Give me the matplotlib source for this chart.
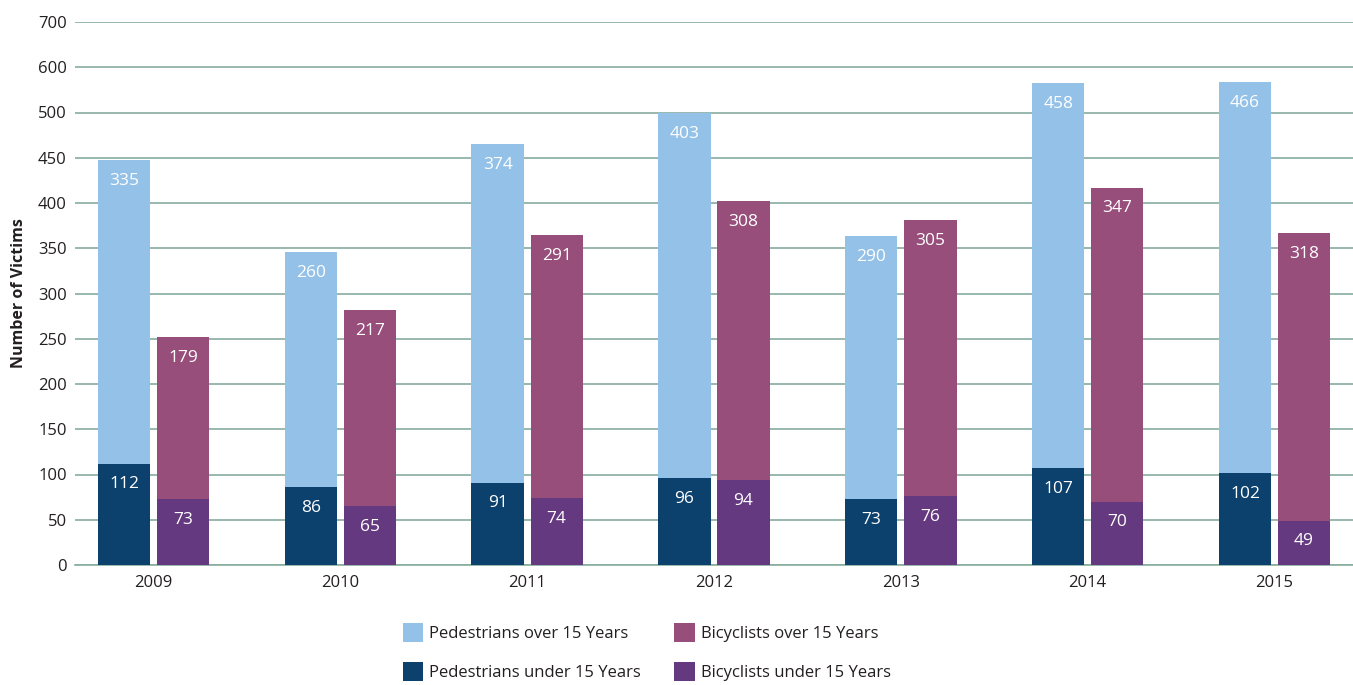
import numpy as np
import matplotlib
matplotlib.use('Agg')
import matplotlib.pyplot as plt

plt.rcParams['font.family'] = ['Open Sans', 'DejaVu Sans']

years = ['2009', '2010', '2011', '2012', '2013', '2014', '2015']
ped_under = [112, 86, 91, 96, 73, 107, 102]
ped_over = [335, 260, 374, 403, 290, 458, 466]
bic_under = [73, 65, 74, 94, 76, 70, 49]
bic_over = [179, 217, 291, 308, 305, 347, 318]

y_ticks = [0, 50, 100, 150, 200, 250, 300, 350, 400, 450, 500, 600, 700]
y_tick_labels = ['0', '50', '100', '150', '200', '250', '300', '350', '400', '450', '500', '600', '700']

c_ped_over = '#94c1e8'
c_ped_under = '#0d416d'
c_bic_over = '#974e7a'
c_bic_under = '#643980'
grid_col = '#86ad9f'
txt_col = '#231f20'

# scale is squeezed above 500 (the original axis jumps 500 -> 600 -> 700)
def fwd(y):
    y = np.asarray(y, dtype=float)
    return np.where(y <= 500, y, 500 + (y - 500) / 2)

def inv(y):
    y = np.asarray(y, dtype=float)
    return np.where(y <= 500, y, 500 + (y - 500) * 2)

fig = plt.figure(figsize=(13.53, 6.85), dpi=100)
ax = fig.add_axes([75 / 1353, 120 / 685, 1 - 75 / 1353, 543 / 685])
ax.set_yscale('function', functions=(fwd, inv))

x = np.arange(len(years))
w = 0.28
off = 0.158

b1 = ax.bar(x - off, ped_over, w, bottom=ped_under, color=c_ped_over, label='Pedestrians over 15 Years', zorder=3)
b2 = ax.bar(x - off, ped_under, w, color=c_ped_under, label='Pedestrians under 15 Years', zorder=3)
b3 = ax.bar(x + off, bic_over, w, bottom=bic_under, color=c_bic_over, label='Bicyclists over 15 Years', zorder=3)
b4 = ax.bar(x + off, bic_under, w, color=c_bic_under, label='Bicyclists under 15 Years', zorder=3)

for bars, vals, bottoms in [(b1, ped_over, ped_under), (b2, ped_under, [0] * 7),
                            (b3, bic_over, bic_under), (b4, bic_under, [0] * 7)]:
    for rect, v, b in zip(bars, vals, bottoms):
        ax.annotate(str(v), (rect.get_x() + rect.get_width() / 2, v + b),
                    xytext=(0, -15), textcoords='offset points',
                    ha='center', va='center', color='white', fontsize=12.5, zorder=4)

ax.set_xlim(-0.42, 6.42)
ax.set_ylim(0, 700)
ax.set_yticks(y_ticks)
ax.set_yticklabels(y_tick_labels)
ax.set_xticks(x)
ax.set_xticklabels(years)
ax.tick_params(axis='both', length=0, labelsize=12, colors=txt_col)
ax.tick_params(axis='y', pad=6)
ax.tick_params(axis='x', pad=7)
ax.yaxis.grid(True, color=grid_col, linewidth=1.2, zorder=0)
ax.set_axisbelow(True)
for s in ['top', 'right', 'left']:
    ax.spines[s].set_visible(False)
ax.spines['bottom'].set_color(grid_col)
ax.spines['bottom'].set_linewidth(1.2)

ax.set_ylabel('Number of Victims', fontsize=11.5, fontweight='bold', color=txt_col, labelpad=8)

fig.legend(handles=[b1, b2, b3, b4], loc='center', bbox_to_anchor=(0.478, 0.048), ncol=2,
           frameon=False, fontsize=12, handlelength=1.25, handleheight=1.4,
           handletextpad=0.35, columnspacing=2.0, labelspacing=1.2, labelcolor=txt_col)

fig.savefig('out.png', dpi=100)
